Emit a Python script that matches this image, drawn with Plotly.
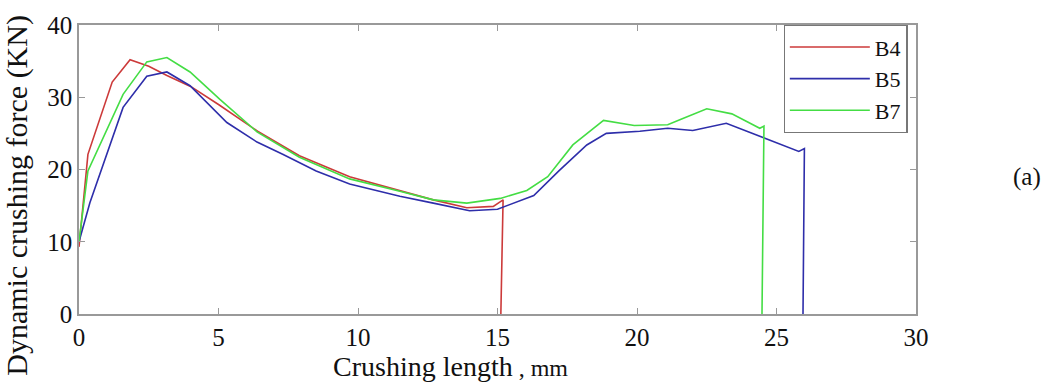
import plotly.graph_objects as go

# Data
b4_x = [0, 0.32, 1.19, 1.83, 2.5, 3.15, 4.0, 5.0, 6.4, 7.9, 9.7, 11.5, 12.7, 13.9, 14.85, 15.2, 15.12]
b4_y = [9.3, 22.1, 32.1, 35.2, 34.3, 33.0, 31.5, 29.0, 25.3, 21.9, 19.0, 17.1, 15.8, 14.7, 14.9, 15.8, 0]

b5_x = [0, 0.39, 1.58, 2.43, 3.15, 3.98, 5.3, 6.38, 7.3, 8.5, 9.7, 11.5, 12.7, 14.0, 15.0, 16.3,
        17.2, 18.2, 18.9, 20.1, 21.1, 22.0, 23.2, 24.5, 25.8, 26.0, 25.95]
b5_y = [10, 15.4, 28.6, 32.9, 33.5, 31.6, 26.5, 23.8, 22.1, 19.8, 18.0, 16.3, 15.35, 14.3, 14.5, 16.4,
        19.8, 23.4, 25.0, 25.3, 25.7, 25.4, 26.4, 24.5, 22.5, 22.9, 0]

b7_x = [0, 0.32, 1.58, 2.43, 3.15, 3.98, 5.05, 6.38, 7.9, 9.7, 11.5, 12.7, 13.9, 15.1, 16.05, 16.8,
        17.7, 18.8, 19.9, 21.1, 21.6, 22.5, 23.4, 24.4, 24.55, 24.48]
b7_y = [10, 19.8, 30.4, 34.9, 35.5, 33.5, 29.7, 25.2, 21.7, 18.7, 17.0, 15.8, 15.35, 16.0, 17.1, 19.0,
        23.4, 26.8, 26.1, 26.2, 27.0, 28.4, 27.7, 25.7, 26.0, 0]

series_names = ["B4", "B5", "B7"]
series_colors = ["#cc3a3a", "#2e2eaa", "#44dd44"]

x_ticks = [0, 5, 10, 15, 20, 25, 30]
y_ticks = [0, 10, 20, 30, 40]

FONT = "Liberation Serif"

fig = go.Figure()
for name, xs, ys, col in zip(series_names, [b4_x, b5_x, b7_x], [b4_y, b5_y, b7_y], series_colors):
    fig.add_trace(go.Scatter(x=xs, y=ys, mode="lines", name=name,
                             line=dict(color=col, width=1.6)))

axis_common = dict(
    showline=True, linecolor="#999999", linewidth=1.5, mirror="ticks",
    ticks="inside", ticklen=6, tickcolor="#999999", tickwidth=1.2,
    showgrid=False, zeroline=False,
    tickfont=dict(family=FONT, size=25, color="#111111"),
)

fig.update_xaxes(range=[0, 30], tickvals=x_ticks, ticktext=[str(v) for v in x_ticks], **axis_common)
fig.update_yaxes(range=[0, 40], tickvals=y_ticks, ticktext=[str(v) for v in y_ticks], **axis_common)

fig.update_layout(
    width=1049, height=389,
    margin=dict(l=79, r=133, t=17, b=75),
    paper_bgcolor="white", plot_bgcolor="white",
    font=dict(family=FONT, color="#111111"),
    showlegend=True,
    legend=dict(
        x=0.99, y=1.0, xanchor="right", yanchor="top",
        bordercolor="#777777", borderwidth=1.2, bgcolor="white",
        font=dict(family=FONT, size=22, color="#111111"),
        tracegroupgap=0, itemwidth=80,
    ),
    annotations=[
        dict(text="Crushing length<span style='font-size:24px'> , mm</span>",
             xref="paper", yref="paper", x=(450 - 79) / 837, y=-0.182,
             xanchor="center", yanchor="middle", showarrow=False,
             font=dict(family=FONT, size=28, color="#111111")),
        dict(text="Dynamic crushing force (KN)",
             xref="paper", yref="paper", x=-0.0735, y=(314 - 192) / 297,
             xanchor="center", yanchor="middle", textangle=-90, showarrow=False,
             font=dict(family=FONT, size=30, color="#111111")),
        dict(text="(a)", xref="paper", yref="paper", x=(1027 - 79) / 837, y=(314 - 173) / 297,
             xanchor="center", yanchor="middle", showarrow=False,
             font=dict(family=FONT, size=25, color="#111111")),
    ],
)

fig.write_html("out.html")
